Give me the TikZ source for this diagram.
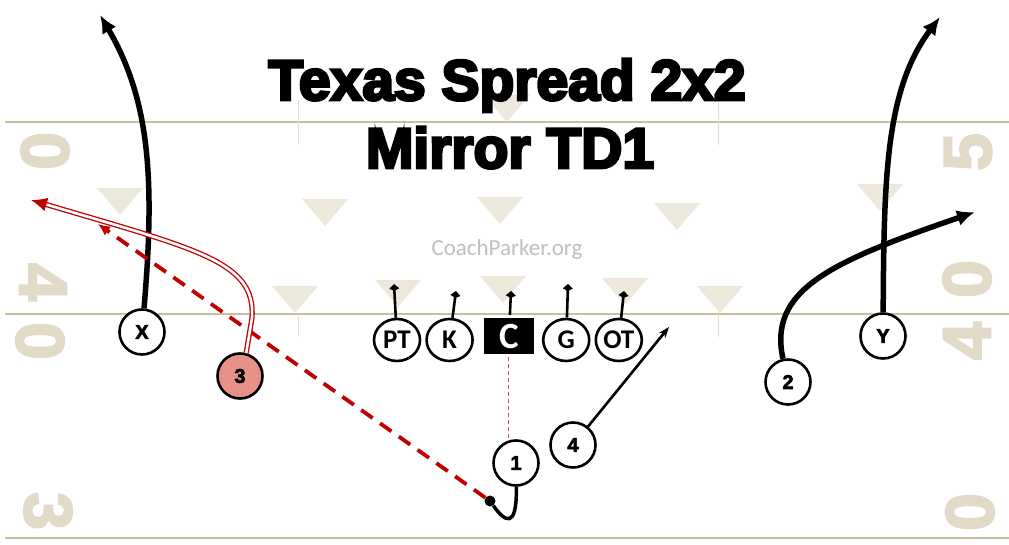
\documentclass[tikz,border=0pt]{standalone}
\usepackage{fontspec}
\setmainfont{Liberation Sans}
\newfontfamily\calibrifont{Carlito}
\newfontfamily\titlefont{Liberation Sans Bold}[FakeBold=5]
\newfontfamily\labelfont{Liberation Sans Bold}[FakeBold=3]
\usepackage{tikz}
\usetikzlibrary{positioning}
\usetikzlibrary{arrows.meta,shapes.geometric,shadows}
\definecolor{fieldline}{HTML}{C8BF9C}
\definecolor{hashmark}{HTML}{ECE9DC}
\definecolor{yardnum}{HTML}{E0DAC6}
\definecolor{routered}{HTML}{C00000}
\definecolor{salmon}{HTML}{E6928A}
\tikzset{%
  skill/.style = {circle,draw,line width=2.6pt,fill=white,minimum size=45pt,
        inner sep=0pt,font=\labelfont\fontsize{20}{20}\selectfont},
  lineman/.style = {ellipse,draw,line width=2.6pt,fill=white,minimum width=46pt,
        minimum height=42pt,inner sep=0pt,font=\calibrifont\bfseries\fontsize{27}{27}\selectfont},
  centerbox/.style = {rectangle,fill=black,draw=white,line width=3pt,text=white,
        minimum width=53pt,minimum height=39pt,inner sep=0pt,
        drop shadow={opacity=0.25,shadow xshift=1pt,shadow yshift=-1pt},
        font=\calibrifont\bfseries\fontsize{37}{37}\selectfont},
  route/.style = {line width=5.5pt,-{Latex[length=18pt,width=16pt]}},
  block/.style = {line width=2.6pt,-{Kite[length=7pt,width=10pt,inset=2.5pt]}},
  pass/.style = {routered,line width=3.8pt,dash pattern=on 14pt off 9pt,
        -{Latex[length=12pt,width=11pt]}},
  option/.style = {draw=routered,double=white,double distance=2.6pt,line width=1.3pt,
        -{Latex[length=16pt,width=14pt]}},
  yard/.style = {text=yardnum,font=\labelfont\fontsize{68}{68}\selectfont,inner sep=0pt},
  title/.style = {anchor=base,font=\titlefont\fontsize{57}{57}\selectfont}
}
\begin{document}
\begin{tikzpicture}[x=1pt,y=-1pt]
\useasboundingbox (0,0) rectangle (1009,545);
\fill[white] (0,0) rectangle (1009,545);

% field
\foreach \ly in {122,314,538}
  \draw[fieldline,line width=2pt] (5,\ly) -- (1009,\ly);
\foreach \hx in {298,718} {
  \draw[fieldline!50,line width=0.8pt] (\hx,100) -- (\hx,145);
  \draw[fieldline!50,line width=0.8pt] (\hx,314) -- (\hx,337);
}
\foreach \tx/\ty in {507/95,120/188,325/199,500/197,677/203,880/184,
                     295/286,398/280,503/276,625/278,720/286}
  \fill[hashmark] (\tx-23,\ty) -- (\tx+23,\ty) -- (\tx,\ty+27) -- cycle;

\node[yard,rotate=-90] (lzeroa) at (45,151) {0};
\node[yard,rotate=-90] (lfour) at (43,282) {4};
\node[yard,rotate=-90] (lzerob) at (40,341) {0};
\node[yard,rotate=-90] (lthree) at (48,511) {3};
\node[yard,rotate=90] (rfive) at (968,152) {5};
\node[yard,rotate=90] (rzeroa) at (967,279) {0};
\node[yard,rotate=90] (rfour) at (967,341) {4};
\node[yard,rotate=90] (rzerob) at (970,512) {0};

% titles
\node[title] (titlea) at (507,100) {Texas Spread 2x2};
\node[title] (titleb) at (510,168) {Mirror TD1};
\node[text=black!25,font=\calibrifont\fontsize{23}{23}\selectfont] (brand) at (507,249) {CoachParker.org};

% line
\node[lineman] (pt) at (397,340) {PT};
\node[lineman] (k) [right=4pt of pt] {K};
\node[centerbox,yshift=4pt] (c) [right=7pt of k] {C};
\node[lineman] (g) [right=5pt of c.east |- k.east] {G};
\node[lineman] (ot) [right=4pt of g] {OT};

\foreach \p/\tx/\ty in {pt/394/284,k/456/291,c/511/291,g/568/284,ot/624/291} {
  \coordinate (\p-tip) at (\tx,\ty);
  \draw[block] (\p) -- (\p-tip);
}

% skill players
\node[skill] (x) at (142,332) {X};
\node[skill,fill=salmon] (n3) at (240,376) {3};
\node[skill] (y) at (883,336) {Y};
\node[skill] (n2) at (788,382) {2};
\node[skill] (n1) at (516,463) {1};
\node[skill] (n4) at (573,445) {4};
\node[circle,fill=black,minimum size=11pt,inner sep=0pt] (qb) at (490,501) {};

% routes
\coordinate (xend) at (100,15);
\coordinate (yend) at (940,17);
\coordinate (twoend) at (975,212);
\coordinate (fourend) at (669,327);
\coordinate (threeend) at (31,200);
\coordinate (passend) at (98,224);

\draw[routered!70,line width=0.9pt,dash pattern=on 4pt off 3pt] (c.south) -- (c.south |- n1.north);
\draw[route] (x) .. controls (155,180) and (150,100) .. (xend);
\draw[route] (y) .. controls (884,180) and (885,90) .. (yend);
\draw[route] (n2) .. controls (768,290) and (830,262) .. (twoend);
\draw[line width=2.6pt,-{Stealth[length=11pt,width=8pt]}] (n4) -- (fourend);
\draw[line width=3.5pt] (n1) .. controls (517,530) and (505,522) .. (qb);
\draw[pass] (qb) -- (passend);
\draw[option] (n3.75) -- (252,318) .. controls (256,262) and (200,250) .. (threeend);
\end{tikzpicture}
\end{document}
